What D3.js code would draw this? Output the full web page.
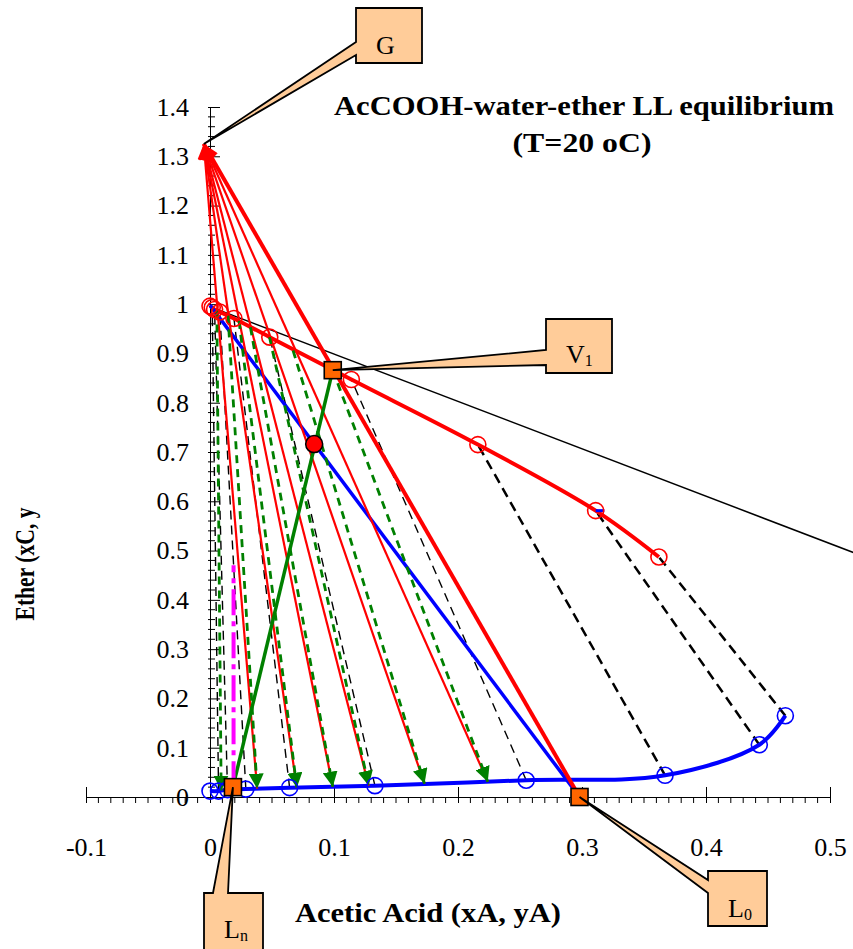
<!DOCTYPE html>
<html>
<head>
<meta charset="utf-8">
<script src="https://cdn.jsdelivr.net/npm/d3@7"></script>
<style>
  body { margin: 0; background: #fff; }
  svg text { font-family: "Liberation Serif", "Times New Roman", serif; fill: #000; }
</style>
</head>
<body>
<svg id="chart" width="853" height="949"></svg>
<script>
// Raffinate (water rich) layer: acetic acid xA and ether xC
var raffA = [0, 0.0069, 0.0141, 0.0289, 0.0642, 0.133, 0.255, 0.367, 0.443, 0.464];
var raffC = [0.012, 0.012, 0.015, 0.016, 0.019, 0.023, 0.034, 0.044, 0.106, 0.165];
// Extract (ether rich) layer: yA and yC
var extA = [0, 0.0018, 0.0037, 0.0079, 0.0193, 0.0482, 0.114, 0.216, 0.311, 0.362];
var extC = [0.996, 0.993, 0.989, 0.984, 0.971, 0.933, 0.847, 0.715, 0.581, 0.487];

// stage construction: V_i on extract curve, L_i on raffinate curve
var stageVA = [0.099, 0.067, 0.048, 0.0326, 0.0234, 0.0145, 0.0055];
var stageVC = [0.866, 0.906, 0.933, 0.953, 0.966, 0.977, 0.987];
var stageLA = [0.224, 0.173, 0.128, 0.099, 0.070, 0.038, 0.009];
var stageLC = [0.031, 0.027, 0.023, 0.021, 0.019, 0.017, 0.013];

// named points
var ptNames = ["G", "L0", "Ln", "V1", "M", "S"];
var ptA = [-0.005, 0.298, 0.0185, 0.099, 0.084, 0];
var ptC = [1.325, 0, 0.020, 0.866, 0.716, 0.998];

// other helper lines
var blackLineA = [0.002, 0.52];
var blackLineC = [0.993, 0.495];
var magentaA = [0.019, 0.019];
var magentaC = [0.02, 0.47];
var blueMarkA = [0.311, 0.318];
var blueMarkC = [0.581, 0.581];

var xMajor = [-0.1, 0, 0.1, 0.2, 0.3, 0.4, 0.5];
var xLabels = ["-0.1", "0", "0.1", "0.2", "0.3", "0.4", "0.5"];
var yMajor = [0, 0.1, 0.2, 0.3, 0.4, 0.5, 0.6, 0.7, 0.8, 0.9, 1, 1.1, 1.2, 1.3, 1.4];
var yLabels = ["0", "0.1", "0.2", "0.3", "0.4", "0.5", "0.6", "0.7", "0.8", "0.9", "1", "1.1", "1.2", "1.3", "1.4"];

var svg = d3.select("#chart");
var x = d3.scaleLinear().domain([-0.1, 0.5]).range([86, 830]);
var y = d3.scaleLinear().domain([0, 1.4]).range([797, 107]);

function pt(name) {
  var i = ptNames.indexOf(name);
  return [x(ptA[i]), y(ptC[i])];
}
function zipPts(a, c) {
  return a.map(function (v, i) { return [x(v), y(c[i])]; });
}

// arrow markers
var defs = svg.append("defs");
function addMarker(id, color, len, wid) {
  defs.append("marker")
    .attr("id", id)
    .attr("viewBox", "0 0 10 10")
    .attr("refX", 10).attr("refY", 5)
    .attr("markerUnits", "userSpaceOnUse")
    .attr("markerWidth", len).attr("markerHeight", wid)
    .attr("orient", "auto")
    .append("path").attr("d", "M0,0L10,5L0,10z").attr("fill", color);
}
addMarker("arRed", "#ff0000", 17, 15);
addMarker("arGreen", "#008000", 15, 15);

// ---- axes ----
var minorX = d3.range(-100, 501, 10).map(function (d) { return d / 1000; })
  .filter(function (d) { return Math.round(d * 1000) % 100 != 0; });
var minorY = d3.range(0, 141, 2).map(function (d) { return d / 100; })
  .filter(function (d) { return Math.round(d * 100) % 10 != 0; });

var gx = svg.append("g").attr("transform", "translate(0," + y(0) + ")")
  .call(d3.axisBottom(x).tickValues(xMajor).tickSizeInner(6).tickSizeOuter(0).tickPadding(35)
    .tickFormat(function (d, i) { return xLabels[i]; }));
gx.selectAll(".tick line").attr("y1", -10);
gx.append("g").selectAll("line").data(minorX).enter().append("line")
  .attr("x1", function (d) { return x(d); }).attr("x2", function (d) { return x(d); })
  .attr("y1", 0).attr("y2", 6).attr("stroke", "#000");

var gy = svg.append("g").attr("transform", "translate(" + x(0) + ",0)")
  .call(d3.axisLeft(y).tickValues(yMajor).tickSizeInner(-10).tickSizeOuter(0).tickPadding(21)
    .tickFormat(function (d, i) { return yLabels[i]; }));
gy.selectAll(".tick line").attr("x1", -2);
gy.append("g").selectAll("line").data(minorY).enter().append("line")
  .attr("y1", function (d) { return y(d); }).attr("y2", function (d) { return y(d); })
  .attr("x1", -2).attr("x2", 5).attr("stroke", "#000");

svg.selectAll(".tick text").attr("font-size", 26).attr("font-family", "Liberation Serif");
svg.selectAll(".domain").attr("stroke", "#000");

// ---- tie lines (black dashed) ----
var tieG = svg.append("g");
for (var i = 1; i < raffA.length; i++) {
  tieG.append("line")
    .attr("x1", x(raffA[i])).attr("y1", y(raffC[i]))
    .attr("x2", x(extA[i])).attr("y2", y(extC[i]))
    .attr("stroke", "#000")
    .attr("stroke-width", i >= 7 ? 2.5 : 1.4)
    .attr("stroke-dasharray", i >= 7 ? "10,6" : "9,6");
}

// thin black line
svg.append("path").datum(zipPts(blackLineA, blackLineC))
  .attr("d", d3.line()).attr("stroke", "#000").attr("stroke-width", 1.5).attr("fill", "none");

// equilibrium curves
var smooth = d3.line().curve(d3.curveCatmullRom.alpha(0.5));
svg.append("path").datum(zipPts(raffA, raffC))
  .attr("d", smooth).attr("stroke", "#0000ff").attr("stroke-width", 4).attr("fill", "none");
svg.append("path").datum(zipPts(extA, extC))
  .attr("d", smooth).attr("stroke", "#ff0000").attr("stroke-width", 4).attr("fill", "none");
svg.append("path").datum(zipPts(blueMarkA, blueMarkC))
  .attr("d", d3.line()).attr("stroke", "#0000ff").attr("stroke-width", 3).attr("fill", "none");

// mixing line S - L0 (blue)
svg.append("path").datum([pt("S"), pt("L0")])
  .attr("d", d3.line()).attr("stroke", "#0000ff").attr("stroke-width", 3.5).attr("fill", "none");

// operating lines from L_i to G (red, arrow at G)
var G = pt("G");
svg.append("line")
  .attr("x1", pt("L0")[0]).attr("y1", pt("L0")[1]).attr("x2", G[0]).attr("y2", G[1])
  .attr("stroke", "#ff0000").attr("stroke-width", 4).attr("marker-end", "url(#arRed)");
for (var i = 0; i < stageLA.length - 1; i++) {
  svg.append("line")
    .attr("x1", x(stageLA[i])).attr("y1", y(stageLC[i])).attr("x2", G[0]).attr("y2", G[1])
    .attr("stroke", "#ff0000").attr("stroke-width", 2.2).attr("marker-end", "url(#arRed)");
}

// stage tie lines V_i -> L_i (green dashed arrows)
for (var i = 0; i < stageVA.length; i++) {
  svg.append("line")
    .attr("x1", x(stageVA[i])).attr("y1", y(stageVC[i]))
    .attr("x2", x(stageLA[i])).attr("y2", y(stageLC[i]))
    .attr("stroke", "#008000").attr("stroke-width", 2.8).attr("stroke-dasharray", "8,6")
    .attr("marker-end", "url(#arGreen)");
}

// Ln - V1 line (green solid)
svg.append("path").datum([pt("Ln"), pt("V1")])
  .attr("d", d3.line()).attr("stroke", "#008000").attr("stroke-width", 3.5).attr("fill", "none");

// magenta dash-dot
svg.append("path").datum(zipPts(magentaA, magentaC))
  .attr("d", d3.line()).attr("stroke", "#ff00ff").attr("stroke-width", 4)
  .attr("stroke-dasharray", "26,6,5,6").attr("fill", "none");

// data markers
svg.append("g").selectAll("circle").data(zipPts(raffA, raffC)).enter().append("circle")
  .attr("cx", function (d) { return d[0]; }).attr("cy", function (d) { return d[1]; })
  .attr("r", 8).attr("fill", "none").attr("stroke", "#0000ff").attr("stroke-width", 1.6);
svg.append("g").selectAll("circle").data(zipPts(extA, extC)).enter().append("circle")
  .attr("cx", function (d) { return d[0]; }).attr("cy", function (d) { return d[1]; })
  .attr("r", 8).attr("fill", "none").attr("stroke", "#ff0000").attr("stroke-width", 1.6);

// mixing point
svg.append("circle").attr("cx", pt("M")[0]).attr("cy", pt("M")[1]).attr("r", 8.5)
  .attr("fill", "#ff0000").attr("stroke", "#000").attr("stroke-width", 1.5);

// orange squares
["L0", "Ln", "V1"].forEach(function (n) {
  var p = pt(n);
  svg.append("rect").attr("x", p[0] - 8.5).attr("y", p[1] - 8.5).attr("width", 17).attr("height", 17)
    .attr("fill", "#ff6600").attr("stroke", "#000").attr("stroke-width", 1.6);
});

// ---- callouts ----
// box = [x0, y0, x1, y1], tail = side and the two points where it leaves the box
var callouts = [
  { name: "G", box: [356, 8, 422, 63], side: "left", t: [42, 55], txt: "G", sub: "", tx: 376, ty: 54 },
  { name: "V1", box: [546, 319, 612, 373], side: "left", t: [350, 365], txt: "V", sub: "1", tx: 566, ty: 363 },
  { name: "Ln", box: [204, 893, 263, 953], side: "top", t: [213, 228], txt: "L", sub: "n", tx: 224, ty: 938 },
  { name: "L0", box: [708, 871, 767, 926], side: "left", t: [880, 893], txt: "L", sub: "0", tx: 728, ty: 917 }
];
callouts.forEach(function (c) {
  var b = c.box, tip = pt(c.name), p;
  if (c.side == "left") {
    p = [[b[0], b[1]], [b[2], b[1]], [b[2], b[3]], [b[0], b[3]], [b[0], c.t[1]], tip, [b[0], c.t[0]]];
  } else {
    p = [[b[0], b[1]], [c.t[0], b[1]], tip, [c.t[1], b[1]], [b[2], b[1]], [b[2], b[3]], [b[0], b[3]]];
  }
  svg.append("path").attr("d", "M" + p.join("L") + "Z")
    .attr("fill", "#ffcc99").attr("stroke", "#000").attr("stroke-width", 1.8).attr("stroke-linejoin", "miter");
  var t = svg.append("text").attr("x", c.tx).attr("y", c.ty).attr("font-size", 26);
  t.append("tspan").text(c.txt);
  if (c.sub) t.append("tspan").attr("font-size", 16).attr("dy", 3).text(c.sub);
});

// ---- titles ----
svg.append("text").attr("x", 584).attr("y", 115).attr("text-anchor", "middle")
  .attr("font-size", 27).attr("font-weight", "bold")
  .attr("textLength", 500).attr("lengthAdjust", "spacingAndGlyphs")
  .text("AcCOOH-water-ether LL equilibrium");
svg.append("text").attr("x", 582).attr("y", 152).attr("text-anchor", "middle")
  .attr("font-size", 27).attr("font-weight", "bold")
  .attr("textLength", 139).attr("lengthAdjust", "spacingAndGlyphs")
  .text("(T=20 oC)");
svg.append("text").attr("x", 428).attr("y", 922).attr("text-anchor", "middle")
  .attr("font-size", 27).attr("font-weight", "bold")
  .attr("textLength", 266).attr("lengthAdjust", "spacingAndGlyphs")
  .text("Acetic Acid (xA, yA)");
svg.append("text").attr("transform", "translate(34,564) rotate(-90)").attr("text-anchor", "middle")
  .attr("font-size", 27).attr("font-weight", "bold")
  .attr("textLength", 113).attr("lengthAdjust", "spacingAndGlyphs")
  .text("Ether (xC, y");
</script>
</body>
</html>
